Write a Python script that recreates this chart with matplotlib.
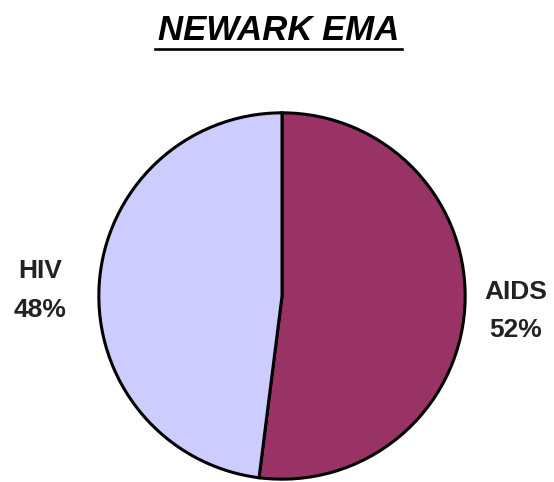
import matplotlib as mpl
mpl.use('Agg')
import matplotlib.pyplot as plt
from matplotlib.lines import Line2D

plt.rcParams['font.family'] = ['Liberation Sans', 'DejaVu Sans']

# data
categories = ['AIDS', 'HIV']
shares = [52, 48]
colours = ['#993366', '#CCCCFF']
title = 'NEWARK EMA'

W, H = 554, 482
fig = plt.figure(figsize=(W / 100, H / 100), dpi=100)

# pie axes: centre (282, 296) px, radius 185 px
cx, cy, r = 282, 296, 185
ax = fig.add_axes([(cx - r) / W, (H - cy - r) / H, 2 * r / W, 2 * r / H])
ax.pie(shares, colors=colours, startangle=90, counterclock=False, radius=1,
       wedgeprops={'edgecolor': 'black', 'linewidth': 2.2})
ax.set_xlim(-1.01, 1.01)
ax.set_ylim(-1.01, 1.01)
ax.set_aspect('auto')
ax.axis('off')

# title, underlined
fig.text(279 / W, 1 - 30 / H, title, ha='center', va='center',
         fontsize=25, fontweight='bold', fontstyle='italic')
fig.add_artist(Line2D([155 / W, 402 / W], [1 - 49 / H, 1 - 49 / H],
                      color='black', linewidth=1.9, transform=fig.transFigure))

# labels outside the pie
label_pos = {'HIV': (40, 271, 310), 'AIDS': (516, 292, 330)}
for cat, val in zip(categories, shares):
    x, y1, y2 = label_pos[cat]
    fig.text(x / W, 1 - y1 / H, cat, ha='center', va='center',
             fontsize=19, fontweight='bold', color='#222222')
    fig.text(x / W, 1 - y2 / H, f'{val}%', ha='center', va='center',
             fontsize=19, fontweight='bold', color='#222222')

fig.savefig('out.png', dpi=100)
